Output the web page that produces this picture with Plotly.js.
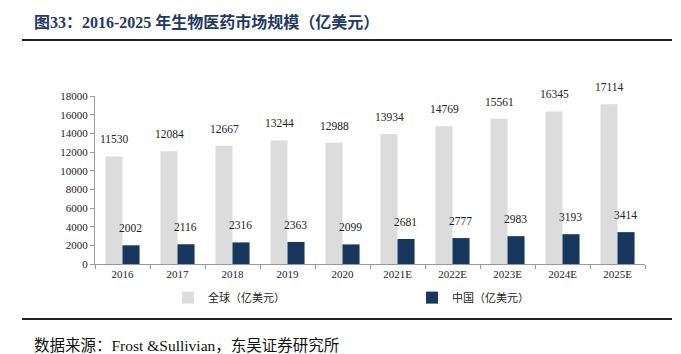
<!DOCTYPE html>
<html>
<head>
<meta charset="utf-8">
<script src="https://cdn.plot.ly/plotly-3.0.1.min.js"></script>
<style>html,body{margin:0;padding:0;background:#fff;}#chart{width:681px;height:354px;}</style>
</head>
<body>
<div id="chart"></div>
<script>
const years = ['2016','2017','2018','2019','2020','2021E','2022E','2023E','2024E','2025E'];
const globalValues = [11530,12084,12667,13244,12988,13934,14769,15561,16345,17114];
const chinaValues = [2002,2116,2316,2363,2099,2681,2777,2983,3193,3414];
const globalName = '全球（亿美元）';
const chinaName = '中国（亿美元）';
const yTicks = [0,2000,4000,6000,8000,10000,12000,14000,16000,18000];

const serif = 'Liberation Serif, Times New Roman, Noto Sans CJK SC, serif';
const cjk = 'Noto Sans CJK SC, Liberation Serif, sans-serif';
const grayColor = '#DCDCDC';
const navyColor = '#17375E';

const traces = [
  {type:'bar', name: globalName, x: years, y: globalValues, marker:{color: grayColor}, hoverinfo:'none', legend:'legend'},
  {type:'bar', name: chinaName, x: years, y: chinaValues, marker:{color: navyColor}, hoverinfo:'none', legend:'legend2'}
];

const annotations = [];
years.forEach((yr,i)=>{
  // category index i (string years like '2016' would otherwise be read as numeric positions)
  annotations.push({x: i, y: globalValues[i], xref:'x', yref:'y', text: String(globalValues[i]), showarrow:false, yanchor:'bottom', xanchor:'center', xshift:-8, yshift:9, font:{family: serif, size:11.5, color:'#222'}});
  annotations.push({x: i, y: chinaValues[i], xref:'x', yref:'y', text: String(chinaValues[i]), showarrow:false, yanchor:'bottom', xanchor:'center', xshift:8, yshift:9, font:{family: serif, size:11.5, color:'#222'}});
});
annotations.push({xref:'paper', yref:'paper', x:-63/550, y:(264-22)/168, text:'<b>图33：2016-2025 年生物医药市场规模（亿美元）</b>', showarrow:false, xanchor:'left', yanchor:'middle', font:{family: serif, size:16, color:'#1F3864'}});
annotations.push({xref:'paper', yref:'paper', x:-63/550, y:-(345-264)/168, text:'数据来源：Frost &Sullivian，东吴证券研究所', showarrow:false, xanchor:'left', yanchor:'middle', font:{family: serif, size:15.5, color:'#111'}});

const legendBase = {orientation:'h', xanchor:'left', y:-0.2, yanchor:'middle', font:{family: cjk, size:11, color:'#222'}, itemwidth:30, bgcolor:'rgba(0,0,0,0)'};

const layout = {
  width:681, height:354,
  margin:{l:95, r:36, t:96, b:90, autoexpand:false},
  paper_bgcolor:'#fff', plot_bgcolor:'#fff',
  barmode:'group', bargap:0.38, bargroupgap:0,
  showlegend:true,
  legend: Object.assign({}, legendBase, {x:(168-95)/550}),
  legend2: Object.assign({}, legendBase, {x:(412-95)/550}),
  xaxis:{type:'category', showline:true, linecolor:'#999', linewidth:1, ticks:'outside', tickson:'boundaries', ticklen:4, tickcolor:'#999', tickangle:0, tickfont:{family: serif, size:11, color:'#222'}, showgrid:false, zeroline:false, fixedrange:true},
  yaxis:{range:[0,18000], tickvals: yTicks, tickformat:'d', showline:true, linecolor:'#999', linewidth:1, ticks:'outside', ticklen:4, tickcolor:'#999', tickfont:{family: serif, size:11, color:'#222'}, showgrid:false, zeroline:false, fixedrange:true},
  shapes:[
    {type:'line', xref:'paper', yref:'paper', x0:-73/550, x1:577/550, y0:(264-40)/168, y1:(264-40)/168, line:{color:'#222', width:2}},
    {type:'line', xref:'paper', yref:'paper', x0:-73/550, x1:577/550, y0:-(319-264)/168, y1:-(319-264)/168, line:{color:'#222', width:2}}
  ],
  annotations: annotations
};

Plotly.newPlot('chart', traces, layout, {displayModeBar:false, staticPlot:true});
</script>
</body>
</html>
